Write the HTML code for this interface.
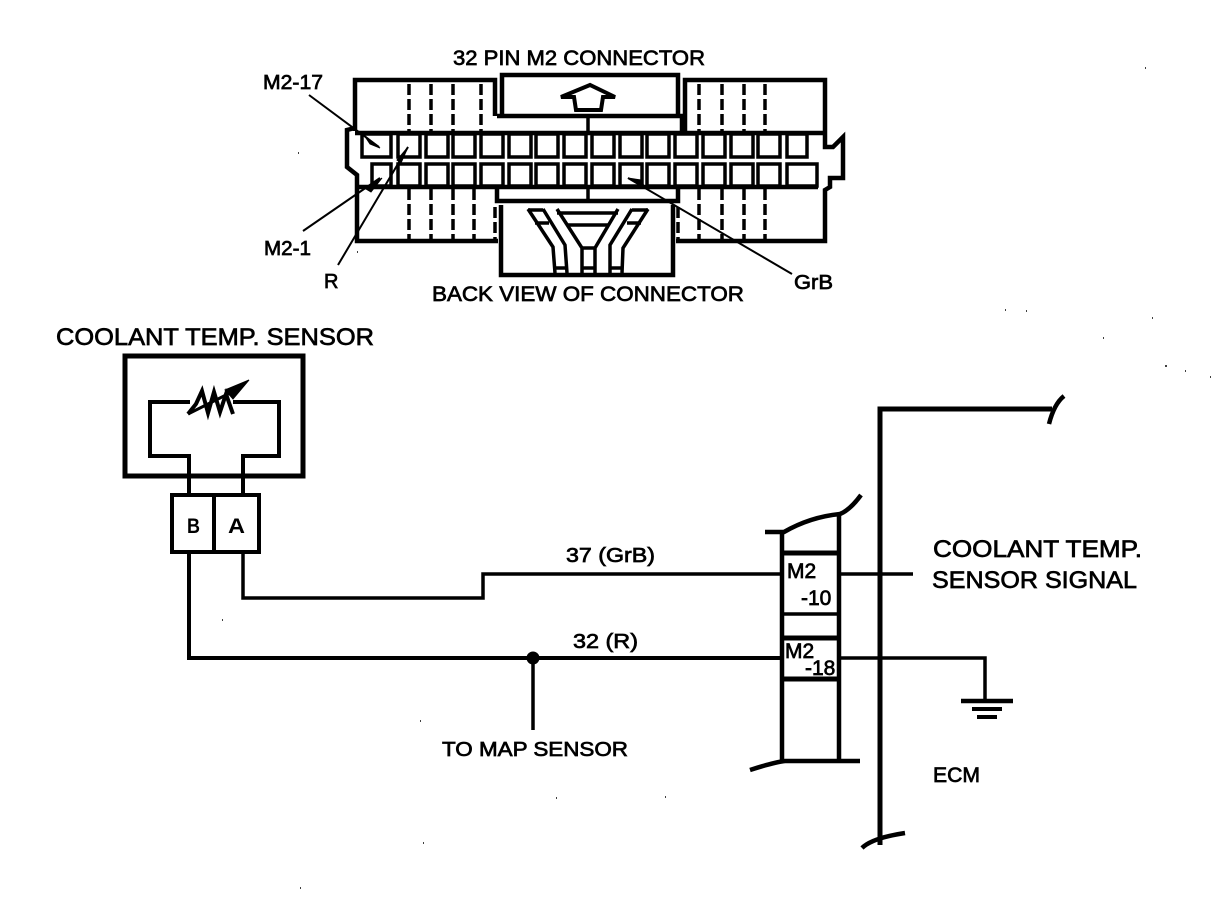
<!DOCTYPE html>
<html><head><meta charset="utf-8"><style>
html,body{margin:0;padding:0;background:#fff}
svg{display:block}
text{font-family:"Liberation Sans",sans-serif;fill:#000;stroke:#000;stroke-width:.7px}
</style></head><body>
<svg width="1216" height="904" viewBox="0 0 1216 904" xmlns="http://www.w3.org/2000/svg">
<rect width="1216" height="904" fill="#fff"/>
<g fill="none" stroke="#000" stroke-linejoin="miter">
<!-- connector outline -->
<g stroke-width="4.5">
<path d="M355 131V80H495V116"/>
<path d="M502 116V75H678V116"/>
<path d="M685 131V80H825V131"/>
<path d="M497 116H682V132"/>
<path d="M355 128L347 130V167L357 175V241H498"/>
<path d="M825 131V147H833L843 137V178H830V187L825 190V241H676"/>
<path d="M497 187V201H678V187"/>
<path d="M501 205V275H673V205"/>
</g>
<path d="M355 133H825M357 187H818" stroke-width="4.5"/>
<path d="M588 116V133M588 187V201" stroke-width="3.5"/>
<path d="M590 85L561 97H574L576 110H601L603 97H615Z" stroke-width="4"/>
<!-- dashes -->
<path d="M409 84V133M431 84V133M453 84V133M481 84V133M699 84V131M722 84V131M744 84V131M765 84V131M409 189V241M431 189V241M453 189V241M474 189V241M495 207V241M678 207V241M699 189V241M722 189V241M744 189V241M765 189V241" stroke-width="3.5" stroke-dasharray="11 4"/>
<!-- pins -->
<g stroke-width="3.5">
<path d="M362 134H391V157H362Z"/>
<rect x="398" y="134" width="22" height="23"/><rect x="426" y="134" width="22" height="23"/><rect x="453" y="134" width="22" height="23"/><rect x="481" y="134" width="22" height="23"/><rect x="509" y="134" width="22" height="23"/><rect x="536" y="134" width="22" height="23"/><rect x="564" y="134" width="22" height="23"/><rect x="592" y="134" width="22" height="23"/><rect x="620" y="134" width="22" height="23"/><rect x="647" y="134" width="22" height="23"/><rect x="675" y="134" width="22" height="23"/><rect x="703" y="134" width="22" height="23"/><rect x="731" y="134" width="22" height="23"/><rect x="758" y="134" width="22" height="23"/><rect x="787" y="134" width="20" height="23"/>
<path d="M372 164H391V186H372Z"/>
<rect x="398" y="164" width="22" height="22"/><rect x="426" y="164" width="22" height="22"/><rect x="453" y="164" width="22" height="22"/><rect x="481" y="164" width="22" height="22"/><rect x="509" y="164" width="22" height="22"/><rect x="536" y="164" width="22" height="22"/><rect x="564" y="164" width="22" height="22"/><rect x="592" y="164" width="22" height="22"/><rect x="620" y="164" width="22" height="22"/><rect x="647" y="164" width="22" height="22"/><rect x="675" y="164" width="22" height="22"/><rect x="703" y="164" width="22" height="22"/><rect x="731" y="164" width="22" height="22"/><rect x="758" y="164" width="22" height="22"/><rect x="787" y="164" width="30" height="22"/>
</g>
<!-- harness -->
<g stroke-width="3.5">
<path d="M528 209L553 247L555 273M543 209L565 245L567 273M557 209L582 248V273M618 209L595 248V273M632 209L610 245V273M648 209L623 248L622 273"/>
<path d="M528 210H543M557 213H618M632 210H648M535 223H549M567 225H608M627 223H641M582 248H595M555 268H567M582 268H595M610 268H622"/>
</g>
<!-- leaders -->
<g stroke-width="2">
<path d="M309 95L379 147M303 231L380 178M338 265L408 147M628 178L792 274"/>
</g>
<path d="M364 135L380 148L370 144Z M408 147L397 160L401 163Z M382 178L366 189L371 192Z M628 178L644 186L641 180Z" fill="#000" stroke-width="1"/>
<!-- sensor -->
<rect x="125" y="356" width="178" height="120" stroke-width="5"/>
<path d="M190 402H150V456H189V494M233 402H279V456H243V494" stroke-width="4"/>
<path d="M188 414L196 404L202 391L208 413L214 392L220 412L226 394L233 414" stroke-width="4"/>
<path d="M188 414L232 392" stroke-width="3"/>
<path d="M249 380L225 390L233 399Z" fill="#000" stroke-width="1"/>
<rect x="172" y="495" width="87" height="57" stroke-width="4"/>
<path d="M214 495V552" stroke-width="4"/>
<!-- wires -->
<path d="M189 552V658H781" stroke-width="4"/>
<path d="M243 552V598H483V574H781" stroke-width="3.5"/>
<path d="M533 658V730" stroke-width="3.5"/>
<circle cx="533" cy="658" r="6.5" fill="#000" stroke="none"/>
<!-- ECM column -->
<g stroke-width="4.5">
<path d="M782 532V762M839 513V762"/>
<path d="M765 532H784Q810 517 840 514Q850 510 861 495"/>
<path d="M782 553H839M782 638H839M782 679H839" stroke-width="5"/>
<path d="M782 614H839" stroke-width="3.5"/>
<path d="M750 770Q775 762 785 761H860"/>
<path d="M840 574H913M840 658H985V700" stroke-width="3.5"/>
<path d="M961 701H1013" stroke-width="4.5"/>
<path d="M972 709H1002M977 717H997" stroke-width="4"/>
<path d="M880 845V409H1052" stroke-width="5"/>
<path d="M1049 424Q1054 404 1064 396M862 848Q872 838 905 833" stroke-width="4.5"/>
</g>
<!-- specks -->
<path d="M1145 68h1M1005 310h1M1026 311h1M1103 338h1M1165 366h2M1185 371h1M1210 377h1M1152 318h1M423 843h1M300 888h1M420 721h1M556 798h1M222 620h1M665 797h1M298 153h1M357 252h1" stroke-width="1.5"/>
</g>
<text x="453" y="65" font-size="21" textLength="252" lengthAdjust="spacingAndGlyphs">32 PIN M2 CONNECTOR</text>
<text x="432" y="301" font-size="21" textLength="312" lengthAdjust="spacingAndGlyphs">BACK VIEW OF CONNECTOR</text>
<text x="263" y="89" font-size="20" textLength="60" lengthAdjust="spacingAndGlyphs">M2-17</text>
<text x="264" y="255" font-size="20" textLength="47" lengthAdjust="spacingAndGlyphs">M2-1</text>
<text x="324" y="288" font-size="20">R</text>
<text x="794" y="289" font-size="20" textLength="39" lengthAdjust="spacingAndGlyphs">GrB</text>
<text x="56" y="345" font-size="24.5" textLength="318" lengthAdjust="spacingAndGlyphs">COOLANT TEMP. SENSOR</text>
<text x="187" y="533" font-size="21" font-weight="bold" style="stroke-width:0" textLength="13" lengthAdjust="spacingAndGlyphs">B</text>
<text x="228" y="533" font-size="21" font-weight="bold" style="stroke-width:0" textLength="17" lengthAdjust="spacingAndGlyphs">A</text>
<text x="566" y="562" font-size="20" textLength="89" lengthAdjust="spacingAndGlyphs">37 (GrB)</text>
<text x="573" y="648" font-size="20" textLength="65" lengthAdjust="spacingAndGlyphs">32 (R)</text>
<text x="442" y="756" font-size="20" textLength="186" lengthAdjust="spacingAndGlyphs">TO MAP SENSOR</text>
<text x="787" y="578" font-size="21">M2</text>
<text x="801" y="605" font-size="21">-10</text>
<text x="785" y="658" font-size="21">M2</text>
<text x="805" y="675" font-size="21">-18</text>
<text x="933" y="557" font-size="24" textLength="209" lengthAdjust="spacingAndGlyphs">COOLANT TEMP.</text>
<text x="932" y="588" font-size="24" textLength="205" lengthAdjust="spacingAndGlyphs">SENSOR SIGNAL</text>
<text x="933" y="782" font-size="21" textLength="47" lengthAdjust="spacingAndGlyphs">ECM</text>
</svg>
</body></html>
